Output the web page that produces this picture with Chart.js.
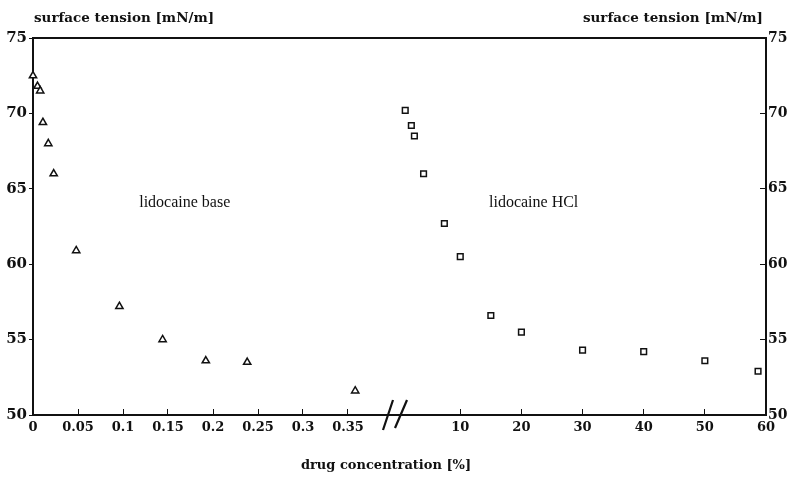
<!DOCTYPE html>
<html>
<head>
<meta charset="utf-8">
<script src="https://cdn.jsdelivr.net/npm/chart.js@4.4.1/dist/chart.umd.min.js"></script>
<style>
  html, body { margin: 0; padding: 0; background: #fff; }
  #wrap { width: 788px; height: 478px; position: relative; }
</style>
</head>
<body>
<div id="wrap"><canvas id="chart"></canvas></div>
<script>
// lidocaine base, drug concentration [%] vs surface tension [mN/m]
const baseConc = [0, 0.005, 0.008, 0.011, 0.017, 0.023, 0.048, 0.096, 0.144, 0.192, 0.238, 0.358];
const baseTension = [72.5, 71.8, 71.5, 69.4, 68.0, 66.0, 60.9, 57.2, 55.0, 53.6, 53.5, 51.6];

// lidocaine HCl
const hclConc = [1, 2, 2.5, 4, 7.4, 10, 15, 20, 30, 40, 50, 58.7];
const hclTension = [70.2, 69.2, 68.5, 66.0, 62.7, 60.5, 56.6, 55.5, 54.3, 54.2, 53.6, 52.9];

const baseTicks = [0, 0.05, 0.1, 0.15, 0.2, 0.25, 0.3, 0.35];
const hclTicks = [10, 20, 30, 40, 50, 60];
const tensionTicks = [50, 55, 60, 65, 70, 75];

const ink = '#111';
const boldSerif = { family: 'DejaVu Serif', weight: 'bold', size: 13 };

function fixedTicks(values) {
  return axis => { axis.ticks = values.map(v => ({ value: v })); };
}

const extras = {
  id: 'extras',
  afterDraw(chart) {
    const { ctx, chartArea, scales } = chart;
    ctx.save();
    ctx.strokeStyle = ink;
    ctx.fillStyle = ink;

    // top frame line
    ctx.lineWidth = 2;
    ctx.beginPath();
    ctx.moveTo(chartArea.left, chartArea.top);
    ctx.lineTo(chartArea.right, chartArea.top);
    ctx.stroke();

    // axis break marks
    const bx = scales.x.right;
    const by = chartArea.bottom;
    ctx.lineWidth = 2.2;
    ctx.beginPath();
    ctx.moveTo(bx - 10, by + 15); ctx.lineTo(bx, by - 15);
    ctx.moveTo(bx + 2, by + 13); ctx.lineTo(bx + 14, by - 15);
    ctx.stroke();

    // axis titles
    ctx.font = 'bold 13.5px "DejaVu Serif"';
    ctx.textBaseline = 'middle';
    ctx.textAlign = 'left';
    ctx.fillText('surface tension [mN/m]', 34, 18);
    ctx.textAlign = 'right';
    ctx.fillText('surface tension [mN/m]', 763, 18);
    ctx.font = 'bold 13px "DejaVu Serif"';
    ctx.textAlign = 'center';
    ctx.fillText('drug concentration [%]', 386, 466);

    // series labels
    ctx.font = '16px "Liberation Serif"';
    ctx.textAlign = 'left';
    ctx.fillText('lidocaine base', scales.x.getPixelForValue(0.118), scales.y.getPixelForValue(64.1));
    ctx.fillText('lidocaine HCl', scales.x2.getPixelForValue(14.7), scales.y.getPixelForValue(64.1));
    ctx.restore();
  }
};

new Chart(document.getElementById('chart'), {
  type: 'scatter',
  data: {
    datasets: [
      {
        label: 'lidocaine base',
        data: baseConc.map((c, i) => ({ x: c, y: baseTension[i] })),
        xAxisID: 'x', yAxisID: 'y', clip: false,
        pointStyle: 'triangle', pointRadius: 4.2,
        borderColor: ink, backgroundColor: '#fff', borderWidth: 1.5
      },
      {
        label: 'lidocaine HCl',
        data: hclConc.map((c, i) => ({ x: c, y: hclTension[i] })),
        xAxisID: 'x2', yAxisID: 'y', clip: false,
        pointStyle: 'rect', pointRadius: 4,
        borderColor: ink, backgroundColor: '#fff', borderWidth: 1.5
      }
    ]
  },
  options: {
    responsive: true,
    maintainAspectRatio: false,
    animation: false,
    layout: { padding: { top: 38, left: 0, right: 0, bottom: 0 } },
    plugins: { legend: { display: false }, tooltip: { enabled: false } },
    scales: {
      x: {
        type: 'linear', position: 'bottom', stack: 'conc', stackWeight: 360,
        min: 0, max: 0.4,
        afterBuildTicks: fixedTicks(baseTicks),
        afterFit: s => { s.height = 63; },
        border: { color: ink, width: 2 },
        grid: { drawOnChartArea: false, tickLength: -6, color: ink, tickWidth: 1 },
        ticks: { color: ink, font: boldSerif, padding: 11, maxRotation: 0, autoSkip: false, callback: v => String(v) }
      },
      x2: {
        type: 'linear', position: 'bottom', stack: 'conc', stackWeight: 373,
        min: -1, max: 60,
        afterBuildTicks: fixedTicks(hclTicks),
        afterFit: s => { s.height = 63; },
        border: { color: ink, width: 2 },
        grid: { drawOnChartArea: false, tickLength: -6, color: ink, tickWidth: 1 },
        ticks: { color: ink, font: boldSerif, padding: 11, maxRotation: 0, autoSkip: false, callback: v => String(v) }
      },
      y: {
        type: 'linear', position: 'left', min: 50, max: 75,
        afterBuildTicks: fixedTicks(tensionTicks),
        afterFit: s => { s.width = 33; },
        border: { color: ink, width: 2 },
        grid: { drawOnChartArea: false, tickLength: 4, color: ink, tickWidth: 1 },
        ticks: { color: ink, font: { ...boldSerif, size: 15 }, padding: 2, callback: v => String(v) }
      },
      y2: {
        type: 'linear', position: 'right', min: 50, max: 75,
        afterBuildTicks: fixedTicks(tensionTicks),
        afterFit: s => { s.width = 22; },
        border: { color: ink, width: 2 },
        grid: { drawOnChartArea: false, tickLength: -6, color: ink, tickWidth: 1 },
        ticks: { color: ink, font: { ...boldSerif, size: 14 }, padding: 8, callback: v => String(v) }
      }
    }
  },
  plugins: [extras]
});
</script>
</body>
</html>
